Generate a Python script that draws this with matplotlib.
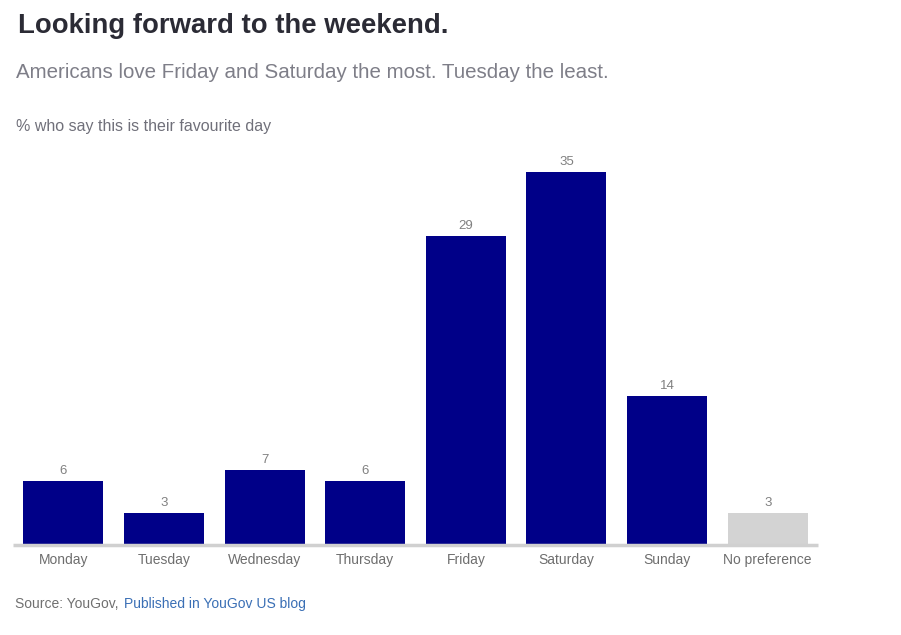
import matplotlib
matplotlib.use('Agg')
import matplotlib.pyplot as plt

plt.rcParams['font.family'] = ['Liberation Sans', 'DejaVu Sans']

# data
days = ['Monday', 'Tuesday', 'Wednesday', 'Thursday', 'Friday',
        'Saturday', 'Sunday', 'No preference']
share = [6, 3, 7, 6, 29, 35, 14, 3]
bar_colors = ['#000088'] * 7 + ['#d3d3d3']

W, H = 901, 635
fig = plt.figure(figsize=(W / 100, H / 100), dpi=100)
ax = fig.add_axes([13 / W, (H - 545) / H, (818 - 13) / W, (545 - 150) / H])

x = list(range(len(days)))
bars = ax.bar(x, share, width=0.795, color=bar_colors, zorder=2)
ax.set_xlim(-0.5, len(days) - 0.5)
ax.set_ylim(0, 37.05)

for b, v in zip(bars, share):
    ax.annotate(str(v), xy=(b.get_x() + b.get_width() / 2, v),
                xytext=(0, 3), textcoords='offset points',
                ha='center', va='bottom', fontsize=9.5, color='#808080')

for s in ['top', 'right', 'left']:
    ax.spines[s].set_visible(False)
ax.spines['bottom'].set_color('#d0d0d0')
ax.spines['bottom'].set_linewidth(2.5)
ax.spines['bottom'].set_capstyle('butt')
ax.set_yticks([])
ax.set_xticks(x)
ax.set_xticklabels(days, fontsize=10, color='#6e6e6e')
ax.tick_params(axis='x', length=0, pad=6)

# titles
fig.text(18 / W, 1 - 26 / H, 'Looking forward to the weekend.', fontsize=19.8,
         fontweight='bold', color='#2b2b35', va='center', ha='left')
fig.text(16 / W, 1 - 72 / H,
         'Americans love Friday and Saturday the most. Tuesday the least.',
         fontsize=14.8, color='#7e7e88', va='center', ha='left')
fig.text(16 / W, 1 - 127 / H, '% who say this is their favourite day',
         fontsize=11.5, color='#70707a', va='center', ha='left')

# footer
fig.text(15 / W, 1 - 604 / H, 'Source: YouGov,', fontsize=10,
         color='#707070', va='center', ha='left')
fig.text(124 / W, 1 - 604 / H, 'Published in YouGov US blog', fontsize=10,
         color='#3a6fb5', va='center', ha='left')

fig.savefig('out.png', dpi=100, facecolor='white')
